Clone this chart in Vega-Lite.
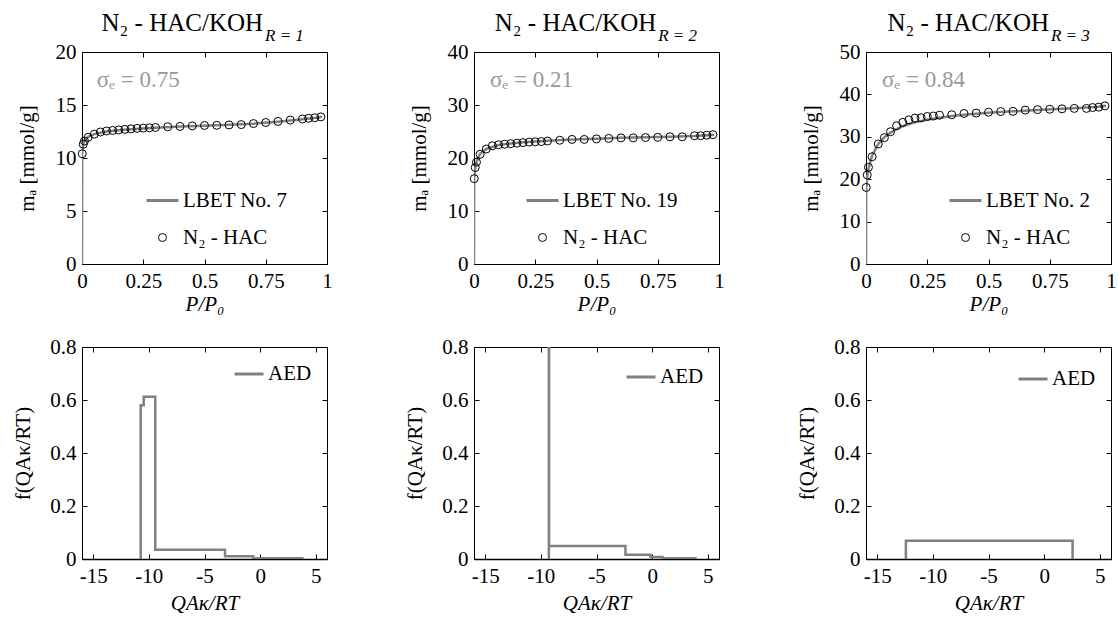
{
  "$schema": "https://vega.github.io/schema/vega-lite/v6.json",
  "background": "white",
  "padding": {"left": 12, "top": 10, "right": 0, "bottom": 0},
  "config": {
    "font": "Liberation Serif",
    "view": {"stroke": "black", "strokeWidth": 1},
    "axis": {
      "labelFont": "Liberation Serif", "labelFontSize": 21, "labelColor": "black",
      "titleFont": "Liberation Serif", "titleFontSize": 21, "titleFontWeight": "normal", "titleColor": "black",
      "domainColor": "black", "tickColor": "black", "grid": false, "tickSize": -5, "labelPadding": 11, "labelFlush": false
    },
    "legend": {"labelFont": "Liberation Serif", "labelFontSize": 21, "labelColor": "black", "padding": 0},
    "text": {"font": "Liberation Serif"}
  },
  "resolve": {
    "scale": {"shape": "independent", "stroke": "independent", "size": "independent", "strokeWidth": "independent", "color": "independent"},
    "legend": {"shape": "independent", "stroke": "independent", "size": "independent", "strokeWidth": "independent", "color": "independent"}
  },
  "datasets": {
    "exp1": [
      {"p":0.001,"m":10.4,"s":"N₂ - HAC"},{"p":0.005,"m":11.3,"s":"N₂ - HAC"},{"p":0.01,"m":11.6,"s":"N₂ - HAC"},{"p":0.025,"m":11.95,"s":"N₂ - HAC"},{"p":0.05,"m":12.25,"s":"N₂ - HAC"},{"p":0.075,"m":12.45,"s":"N₂ - HAC"},{"p":0.1,"m":12.55,"s":"N₂ - HAC"},{"p":0.125,"m":12.6,"s":"N₂ - HAC"},{"p":0.15,"m":12.65,"s":"N₂ - HAC"},{"p":0.175,"m":12.7,"s":"N₂ - HAC"},{"p":0.2,"m":12.75,"s":"N₂ - HAC"},{"p":0.225,"m":12.8,"s":"N₂ - HAC"},{"p":0.25,"m":12.82,"s":"N₂ - HAC"},{"p":0.275,"m":12.85,"s":"N₂ - HAC"},{"p":0.3,"m":12.88,"s":"N₂ - HAC"},{"p":0.35,"m":12.95,"s":"N₂ - HAC"},{"p":0.4,"m":12.98,"s":"N₂ - HAC"},{"p":0.45,"m":13.03,"s":"N₂ - HAC"},{"p":0.5,"m":13.07,"s":"N₂ - HAC"},{"p":0.55,"m":13.08,"s":"N₂ - HAC"},{"p":0.6,"m":13.12,"s":"N₂ - HAC"},{"p":0.65,"m":13.15,"s":"N₂ - HAC"},{"p":0.7,"m":13.25,"s":"N₂ - HAC"},{"p":0.75,"m":13.35,"s":"N₂ - HAC"},{"p":0.8,"m":13.45,"s":"N₂ - HAC"},{"p":0.85,"m":13.58,"s":"N₂ - HAC"},{"p":0.9,"m":13.68,"s":"N₂ - HAC"},{"p":0.925,"m":13.75,"s":"N₂ - HAC"},{"p":0.95,"m":13.8,"s":"N₂ - HAC"},{"p":0.975,"m":13.88,"s":"N₂ - HAC"}
    ],
    "fit1": [
      {"p":0,"m":0},{"p":0.0005,"m":10.3},{"p":0.001,"m":10.6},{"p":0.005,"m":11.3},{"p":0.01,"m":11.65},{"p":0.025,"m":12.0},{"p":0.05,"m":12.25},{"p":0.1,"m":12.5},{"p":0.15,"m":12.62},{"p":0.2,"m":12.72},{"p":0.3,"m":12.86},{"p":0.4,"m":12.97},{"p":0.5,"m":13.05},{"p":0.6,"m":13.13},{"p":0.7,"m":13.24},{"p":0.8,"m":13.42},{"p":0.9,"m":13.65},{"p":0.95,"m":13.78},{"p":0.98,"m":13.88}
    ],
    "exp2": [
      {"p":0.001,"m":16.1,"s":"N₂ - HAC"},{"p":0.005,"m":18.2,"s":"N₂ - HAC"},{"p":0.01,"m":19.2,"s":"N₂ - HAC"},{"p":0.025,"m":20.7,"s":"N₂ - HAC"},{"p":0.05,"m":21.7,"s":"N₂ - HAC"},{"p":0.075,"m":22.3,"s":"N₂ - HAC"},{"p":0.1,"m":22.5,"s":"N₂ - HAC"},{"p":0.125,"m":22.6,"s":"N₂ - HAC"},{"p":0.15,"m":22.7,"s":"N₂ - HAC"},{"p":0.175,"m":22.8,"s":"N₂ - HAC"},{"p":0.2,"m":22.9,"s":"N₂ - HAC"},{"p":0.225,"m":23.0,"s":"N₂ - HAC"},{"p":0.25,"m":23.05,"s":"N₂ - HAC"},{"p":0.275,"m":23.1,"s":"N₂ - HAC"},{"p":0.3,"m":23.2,"s":"N₂ - HAC"},{"p":0.35,"m":23.35,"s":"N₂ - HAC"},{"p":0.4,"m":23.5,"s":"N₂ - HAC"},{"p":0.45,"m":23.5,"s":"N₂ - HAC"},{"p":0.5,"m":23.6,"s":"N₂ - HAC"},{"p":0.55,"m":23.7,"s":"N₂ - HAC"},{"p":0.6,"m":23.8,"s":"N₂ - HAC"},{"p":0.65,"m":23.8,"s":"N₂ - HAC"},{"p":0.7,"m":23.86,"s":"N₂ - HAC"},{"p":0.75,"m":23.9,"s":"N₂ - HAC"},{"p":0.8,"m":24.0,"s":"N₂ - HAC"},{"p":0.85,"m":24.0,"s":"N₂ - HAC"},{"p":0.9,"m":24.2,"s":"N₂ - HAC"},{"p":0.925,"m":24.2,"s":"N₂ - HAC"},{"p":0.95,"m":24.3,"s":"N₂ - HAC"},{"p":0.975,"m":24.4,"s":"N₂ - HAC"}
    ],
    "fit2": [
      {"p":0,"m":0},{"p":0.0005,"m":15.8},{"p":0.001,"m":16.3},{"p":0.005,"m":18.3},{"p":0.01,"m":19.3},{"p":0.025,"m":20.8},{"p":0.05,"m":21.7},{"p":0.1,"m":22.45},{"p":0.15,"m":22.75},{"p":0.2,"m":22.95},{"p":0.3,"m":23.25},{"p":0.4,"m":23.5},{"p":0.5,"m":23.65},{"p":0.6,"m":23.8},{"p":0.7,"m":23.9},{"p":0.8,"m":24.0},{"p":0.9,"m":24.15},{"p":0.95,"m":24.3},{"p":0.98,"m":24.4}
    ],
    "exp3": [
      {"p":0.001,"m":18.05,"s":"N₂ - HAC"},{"p":0.005,"m":21.0,"s":"N₂ - HAC"},{"p":0.01,"m":22.8,"s":"N₂ - HAC"},{"p":0.025,"m":25.3,"s":"N₂ - HAC"},{"p":0.05,"m":28.3,"s":"N₂ - HAC"},{"p":0.075,"m":29.8,"s":"N₂ - HAC"},{"p":0.1,"m":31.2,"s":"N₂ - HAC"},{"p":0.125,"m":32.6,"s":"N₂ - HAC"},{"p":0.15,"m":33.4,"s":"N₂ - HAC"},{"p":0.175,"m":34.0,"s":"N₂ - HAC"},{"p":0.2,"m":34.4,"s":"N₂ - HAC"},{"p":0.225,"m":34.5,"s":"N₂ - HAC"},{"p":0.25,"m":34.8,"s":"N₂ - HAC"},{"p":0.275,"m":34.9,"s":"N₂ - HAC"},{"p":0.3,"m":35.1,"s":"N₂ - HAC"},{"p":0.35,"m":35.2,"s":"N₂ - HAC"},{"p":0.4,"m":35.5,"s":"N₂ - HAC"},{"p":0.45,"m":35.6,"s":"N₂ - HAC"},{"p":0.5,"m":35.8,"s":"N₂ - HAC"},{"p":0.55,"m":35.95,"s":"N₂ - HAC"},{"p":0.6,"m":36.0,"s":"N₂ - HAC"},{"p":0.65,"m":36.3,"s":"N₂ - HAC"},{"p":0.7,"m":36.4,"s":"N₂ - HAC"},{"p":0.75,"m":36.5,"s":"N₂ - HAC"},{"p":0.8,"m":36.6,"s":"N₂ - HAC"},{"p":0.85,"m":36.7,"s":"N₂ - HAC"},{"p":0.9,"m":36.7,"s":"N₂ - HAC"},{"p":0.925,"m":36.9,"s":"N₂ - HAC"},{"p":0.95,"m":37.0,"s":"N₂ - HAC"},{"p":0.975,"m":37.3,"s":"N₂ - HAC"}
    ],
    "fit3": [
      {"p":0,"m":0},{"p":0.0005,"m":16.5},{"p":0.001,"m":17.8},{"p":0.005,"m":20.6},{"p":0.01,"m":22.4},{"p":0.025,"m":25.6},{"p":0.05,"m":28.3},{"p":0.075,"m":29.9},{"p":0.1,"m":31.0},{"p":0.125,"m":31.8},{"p":0.15,"m":32.5},{"p":0.175,"m":33.0},{"p":0.2,"m":33.4},{"p":0.25,"m":34.0},{"p":0.3,"m":34.5},{"p":0.35,"m":34.9},{"p":0.4,"m":35.2},{"p":0.5,"m":35.7},{"p":0.6,"m":36.0},{"p":0.7,"m":36.3},{"p":0.8,"m":36.6},{"p":0.9,"m":36.9},{"p":0.95,"m":37.1},{"p":0.98,"m":37.3}
    ],
    "aed1": [
      {"i":0,"q":-10.73,"f":0,"s":"AED"},{"i":1,"q":-10.73,"f":0.58,"s":"AED"},{"i":2,"q":-10.46,"f":0.612,"s":"AED"},{"i":3,"q":-9.42,"f":0.035,"s":"AED"},{"i":4,"q":-3.16,"f":0.01,"s":"AED"},{"i":5,"q":-0.63,"f":0.003,"s":"AED"},{"i":6,"q":3.9,"f":0.003,"s":"AED"}
    ],
    "aed2": [
      {"i":0,"q":-9.28,"f":0,"s":"AED"},{"i":1,"q":-9.28,"f":1.2,"s":"AED"},{"i":2,"q":-9.26,"f":0.049,"s":"AED"},{"i":3,"q":-2.4,"f":0.016,"s":"AED"},{"i":4,"q":-0.15,"f":0.0075,"s":"AED"},{"i":5,"q":0.93,"f":0.0025,"s":"AED"},{"i":6,"q":4.0,"f":0.0025,"s":"AED"}
    ],
    "aed3": [
      {"i":0,"q":-12.42,"f":0,"s":"AED"},{"i":1,"q":-12.42,"f":0.069,"s":"AED"},{"i":2,"q":2.55,"f":0,"s":"AED"}
    ]
  },
  "columns": 3,
  "spacing": {"column": 71, "row": 20},
  "concat": [
    {
      "width": 245, "height": 212,
      "resolve": {"axis": {"x": "independent", "y": "independent"}},
      "layer": [
        {
          "data": {"name": "fit1"},
          "mark": {"type": "line", "color": "#808080", "strokeWidth": 2.5, "clip": true},
          "encoding": {
            "x": {"field": "p", "type": "quantitative", "scale": {"domain": [0, 1]}, "axis": {"values": [0, 0.25, 0.5, 0.75, 1], "labelExpr": "'' + datum.value", "title": "P/P₀", "titleFontStyle": "italic", "titlePadding": 2}},
            "y": {"field": "m", "type": "quantitative", "scale": {"domain": [0, 20]}, "axis": {"values": [0, 5, 10, 15, 20], "labelExpr": "'' + datum.value", "title": "mₐ [mmol/g]", "titlePadding": 18}}
          }
        },
        {
          "data": {"name": "exp1"},
          "mark": {"type": "point", "filled": false, "opacity": 1},
          "encoding": {
            "x": {"field": "p", "type": "quantitative", "axis": {"orient": "top", "values": [0, 0.25, 0.5, 0.75, 1], "labels": false, "domain": false, "title": null}},
            "y": {"field": "m", "type": "quantitative", "axis": {"orient": "right", "values": [0, 5, 10, 15, 20], "labels": false, "domain": false, "title": null}},
            "shape": {"field": "s", "type": "nominal", "scale": {"domain": ["LBET No. 7", "N₂ - HAC"], "range": ["stroke", "circle"]}, "legend": {"orient": "none", "legendX": 63, "legendY": 131, "title": null, "labelOffset": 3, "rowPadding": 15}},
            "stroke": {"field": "s", "type": "nominal", "scale": {"domain": ["LBET No. 7", "N₂ - HAC"], "range": ["#808080", "#000000"]}, "legend": {"orient": "none", "legendX": 63, "legendY": 131, "title": null, "labelOffset": 3, "rowPadding": 15}},
            "size": {"field": "s", "type": "nominal", "scale": {"type": "ordinal", "domain": ["LBET No. 7", "N₂ - HAC"], "range": [1024, 64]}, "legend": {"orient": "none", "legendX": 63, "legendY": 131, "title": null, "labelOffset": 3, "rowPadding": 15}},
            "strokeWidth": {"field": "s", "type": "nominal", "scale": {"type": "ordinal", "domain": ["LBET No. 7", "N₂ - HAC"], "range": [3, 1]}, "legend": {"orient": "none", "legendX": 63, "legendY": 131, "title": null, "labelOffset": 3, "rowPadding": 15}}
          }
        },
        {
          "data": {"values": [{}]},
          "mark": {"type": "text", "align": "left", "baseline": "alphabetic", "fontSize": 23, "color": "#999999"},
          "encoding": {"x": {"datum": 0.06, "type": "quantitative", "axis": null}, "y": {"datum": 16.7, "type": "quantitative", "axis": null}, "text": {"value": "σₑ = 0.75"}}
        },
        {
          "data": {"values": [{}]},
          "mark": {"type": "text", "align": "right", "baseline": "alphabetic", "fontSize": 25, "color": "black"},
          "encoding": {"x": {"datum": 0.739, "type": "quantitative", "axis": null}, "y": {"datum": 22.0, "type": "quantitative", "axis": null}, "text": {"value": "N₂ - HAC/KOH"}}
        },
        {
          "data": {"values": [{}]},
          "mark": {"type": "text", "align": "left", "baseline": "alphabetic", "fontSize": 17, "fontStyle": "italic", "color": "black"},
          "encoding": {"x": {"datum": 0.747, "type": "quantitative", "axis": null}, "y": {"datum": 21.01, "type": "quantitative", "axis": null}, "text": {"value": "R = 1"}}
        }
      ]
    },
    {
      "width": 245, "height": 212,
      "resolve": {"axis": {"x": "independent", "y": "independent"}},
      "layer": [
        {
          "data": {"name": "fit2"},
          "mark": {"type": "line", "color": "#808080", "strokeWidth": 2.5, "clip": true},
          "encoding": {
            "x": {"field": "p", "type": "quantitative", "scale": {"domain": [0, 1]}, "axis": {"values": [0, 0.25, 0.5, 0.75, 1], "labelExpr": "'' + datum.value", "title": "P/P₀", "titleFontStyle": "italic", "titlePadding": 2}},
            "y": {"field": "m", "type": "quantitative", "scale": {"domain": [0, 40]}, "axis": {"values": [0, 10, 20, 30, 40], "labelExpr": "'' + datum.value", "title": "mₐ [mmol/g]", "titlePadding": 18}}
          }
        },
        {
          "data": {"name": "exp2"},
          "mark": {"type": "point", "filled": false, "opacity": 1},
          "encoding": {
            "x": {"field": "p", "type": "quantitative", "axis": {"orient": "top", "values": [0, 0.25, 0.5, 0.75, 1], "labels": false, "domain": false, "title": null}},
            "y": {"field": "m", "type": "quantitative", "axis": {"orient": "right", "values": [0, 10, 20, 30, 40], "labels": false, "domain": false, "title": null}},
            "shape": {"field": "s", "type": "nominal", "scale": {"domain": ["LBET No. 19", "N₂ - HAC"], "range": ["stroke", "circle"]}, "legend": {"orient": "none", "legendX": 51, "legendY": 131, "title": null, "labelOffset": 3, "rowPadding": 15}},
            "stroke": {"field": "s", "type": "nominal", "scale": {"domain": ["LBET No. 19", "N₂ - HAC"], "range": ["#808080", "#000000"]}, "legend": {"orient": "none", "legendX": 51, "legendY": 131, "title": null, "labelOffset": 3, "rowPadding": 15}},
            "size": {"field": "s", "type": "nominal", "scale": {"type": "ordinal", "domain": ["LBET No. 19", "N₂ - HAC"], "range": [1024, 64]}, "legend": {"orient": "none", "legendX": 51, "legendY": 131, "title": null, "labelOffset": 3, "rowPadding": 15}},
            "strokeWidth": {"field": "s", "type": "nominal", "scale": {"type": "ordinal", "domain": ["LBET No. 19", "N₂ - HAC"], "range": [3, 1]}, "legend": {"orient": "none", "legendX": 51, "legendY": 131, "title": null, "labelOffset": 3, "rowPadding": 15}}
          }
        },
        {
          "data": {"values": [{}]},
          "mark": {"type": "text", "align": "left", "baseline": "alphabetic", "fontSize": 23, "color": "#999999"},
          "encoding": {"x": {"datum": 0.065, "type": "quantitative", "axis": null}, "y": {"datum": 33.4, "type": "quantitative", "axis": null}, "text": {"value": "σₑ = 0.21"}}
        },
        {
          "data": {"values": [{}]},
          "mark": {"type": "text", "align": "right", "baseline": "alphabetic", "fontSize": 25, "color": "black"},
          "encoding": {"x": {"datum": 0.744, "type": "quantitative", "axis": null}, "y": {"datum": 44.0, "type": "quantitative", "axis": null}, "text": {"value": "N₂ - HAC/KOH"}}
        },
        {
          "data": {"values": [{}]},
          "mark": {"type": "text", "align": "left", "baseline": "alphabetic", "fontSize": 17, "fontStyle": "italic", "color": "black"},
          "encoding": {"x": {"datum": 0.752, "type": "quantitative", "axis": null}, "y": {"datum": 42.02, "type": "quantitative", "axis": null}, "text": {"value": "R = 2"}}
        }
      ]
    },
    {
      "width": 245, "height": 212,
      "resolve": {"axis": {"x": "independent", "y": "independent"}},
      "layer": [
        {
          "data": {"name": "fit3"},
          "mark": {"type": "line", "color": "#808080", "strokeWidth": 2.5, "clip": true},
          "encoding": {
            "x": {"field": "p", "type": "quantitative", "scale": {"domain": [0, 1]}, "axis": {"values": [0, 0.25, 0.5, 0.75, 1], "labelExpr": "'' + datum.value", "title": "P/P₀", "titleFontStyle": "italic", "titlePadding": 2}},
            "y": {"field": "m", "type": "quantitative", "scale": {"domain": [0, 50]}, "axis": {"values": [0, 10, 20, 30, 40, 50], "labelExpr": "'' + datum.value", "title": "mₐ [mmol/g]", "titlePadding": 18}}
          }
        },
        {
          "data": {"name": "exp3"},
          "mark": {"type": "point", "filled": false, "opacity": 1},
          "encoding": {
            "x": {"field": "p", "type": "quantitative", "axis": {"orient": "top", "values": [0, 0.25, 0.5, 0.75, 1], "labels": false, "domain": false, "title": null}},
            "y": {"field": "m", "type": "quantitative", "axis": {"orient": "right", "values": [0, 10, 20, 30, 40, 50], "labels": false, "domain": false, "title": null}},
            "shape": {"field": "s", "type": "nominal", "scale": {"domain": ["LBET No. 2", "N₂ - HAC"], "range": ["stroke", "circle"]}, "legend": {"orient": "none", "legendX": 82, "legendY": 131, "title": null, "labelOffset": 3, "rowPadding": 15}},
            "stroke": {"field": "s", "type": "nominal", "scale": {"domain": ["LBET No. 2", "N₂ - HAC"], "range": ["#808080", "#000000"]}, "legend": {"orient": "none", "legendX": 82, "legendY": 131, "title": null, "labelOffset": 3, "rowPadding": 15}},
            "size": {"field": "s", "type": "nominal", "scale": {"type": "ordinal", "domain": ["LBET No. 2", "N₂ - HAC"], "range": [1024, 64]}, "legend": {"orient": "none", "legendX": 82, "legendY": 131, "title": null, "labelOffset": 3, "rowPadding": 15}},
            "strokeWidth": {"field": "s", "type": "nominal", "scale": {"type": "ordinal", "domain": ["LBET No. 2", "N₂ - HAC"], "range": [3, 1]}, "legend": {"orient": "none", "legendX": 82, "legendY": 131, "title": null, "labelOffset": 3, "rowPadding": 15}}
          }
        },
        {
          "data": {"values": [{}]},
          "mark": {"type": "text", "align": "left", "baseline": "alphabetic", "fontSize": 23, "color": "#999999"},
          "encoding": {"x": {"datum": 0.065, "type": "quantitative", "axis": null}, "y": {"datum": 41.7, "type": "quantitative", "axis": null}, "text": {"value": "σₑ = 0.84"}}
        },
        {
          "data": {"values": [{}]},
          "mark": {"type": "text", "align": "right", "baseline": "alphabetic", "fontSize": 25, "color": "black"},
          "encoding": {"x": {"datum": 0.747, "type": "quantitative", "axis": null}, "y": {"datum": 55.0, "type": "quantitative", "axis": null}, "text": {"value": "N₂ - HAC/KOH"}}
        },
        {
          "data": {"values": [{}]},
          "mark": {"type": "text", "align": "left", "baseline": "alphabetic", "fontSize": 17, "fontStyle": "italic", "color": "black"},
          "encoding": {"x": {"datum": 0.755, "type": "quantitative", "axis": null}, "y": {"datum": 52.52, "type": "quantitative", "axis": null}, "text": {"value": "R = 3"}}
        }
      ]
    },
    {
      "width": 245, "height": 212,
      "resolve": {"axis": {"x": "independent", "y": "independent"}},
      "layer": [
        {
          "data": {"name": "aed1"},
          "mark": {"type": "line", "interpolate": "step-after", "strokeWidth": 2.5, "clip": true},
          "encoding": {
            "x": {"field": "q", "type": "quantitative", "scale": {"domain": [-15, 5]}, "axis": {"values": [-15, -10, -5, 0, 5], "labelExpr": "'' + datum.value", "title": "QAκ/RT", "titleFontStyle": "italic", "titlePadding": 6, "domainWidth": 1.5}},
            "y": {"field": "f", "type": "quantitative", "scale": {"domain": [0, 0.8]}, "axis": {"values": [0, 0.2, 0.4, 0.6, 0.8], "labelExpr": "'' + datum.value", "title": "f(QAκ/RT)", "titlePadding": 16}},
            "order": {"field": "i", "type": "quantitative"},
            "stroke": {"field": "s", "type": "nominal", "scale": {"domain": ["AED"], "range": ["#808080"]}, "legend": {"orient": "none", "legendX": 151, "legendY": 11, "title": null, "symbolType": "stroke", "symbolSize": 841, "symbolStrokeWidth": 3, "labelOffset": 3}}
          }
        },
        {
          "data": {"name": "aed1"},
          "mark": {"type": "point", "opacity": 0, "clip": true},
          "encoding": {
            "x": {"field": "q", "type": "quantitative", "axis": {"orient": "top", "values": [-15, -10, -5, 0, 5], "labels": false, "domain": false, "title": null}},
            "y": {"field": "f", "type": "quantitative", "axis": {"orient": "right", "values": [0, 0.2, 0.4, 0.6, 0.8], "labels": false, "domain": false, "title": null}}
          }
        }
      ]
    },
    {
      "width": 245, "height": 212,
      "resolve": {"axis": {"x": "independent", "y": "independent"}},
      "layer": [
        {
          "data": {"name": "aed2"},
          "mark": {"type": "line", "interpolate": "step-after", "strokeWidth": 2.5, "clip": true},
          "encoding": {
            "x": {"field": "q", "type": "quantitative", "scale": {"domain": [-15, 5]}, "axis": {"values": [-15, -10, -5, 0, 5], "labelExpr": "'' + datum.value", "title": "QAκ/RT", "titleFontStyle": "italic", "titlePadding": 6, "domainWidth": 1.5}},
            "y": {"field": "f", "type": "quantitative", "scale": {"domain": [0, 0.8]}, "axis": {"values": [0, 0.2, 0.4, 0.6, 0.8], "labelExpr": "'' + datum.value", "title": "f(QAκ/RT)", "titlePadding": 16}},
            "order": {"field": "i", "type": "quantitative"},
            "stroke": {"field": "s", "type": "nominal", "scale": {"domain": ["AED"], "range": ["#808080"]}, "legend": {"orient": "none", "legendX": 151, "legendY": 14, "title": null, "symbolType": "stroke", "symbolSize": 841, "symbolStrokeWidth": 3, "labelOffset": 3}}
          }
        },
        {
          "data": {"name": "aed2"},
          "mark": {"type": "point", "opacity": 0, "clip": true},
          "encoding": {
            "x": {"field": "q", "type": "quantitative", "axis": {"orient": "top", "values": [-15, -10, -5, 0, 5], "labels": false, "domain": false, "title": null}},
            "y": {"field": "f", "type": "quantitative", "axis": {"orient": "right", "values": [0, 0.2, 0.4, 0.6, 0.8], "labels": false, "domain": false, "title": null}}
          }
        }
      ]
    },
    {
      "width": 245, "height": 212,
      "resolve": {"axis": {"x": "independent", "y": "independent"}},
      "layer": [
        {
          "data": {"name": "aed3"},
          "mark": {"type": "line", "interpolate": "step-after", "strokeWidth": 2.5, "clip": true},
          "encoding": {
            "x": {"field": "q", "type": "quantitative", "scale": {"domain": [-15, 5]}, "axis": {"values": [-15, -10, -5, 0, 5], "labelExpr": "'' + datum.value", "title": "QAκ/RT", "titleFontStyle": "italic", "titlePadding": 6, "domainWidth": 1.5}},
            "y": {"field": "f", "type": "quantitative", "scale": {"domain": [0, 0.8]}, "axis": {"values": [0, 0.2, 0.4, 0.6, 0.8], "labelExpr": "'' + datum.value", "title": "f(QAκ/RT)", "titlePadding": 16}},
            "order": {"field": "i", "type": "quantitative"},
            "stroke": {"field": "s", "type": "nominal", "scale": {"domain": ["AED"], "range": ["#808080"]}, "legend": {"orient": "none", "legendX": 151, "legendY": 16, "title": null, "symbolType": "stroke", "symbolSize": 841, "symbolStrokeWidth": 3, "labelOffset": 3}}
          }
        },
        {
          "data": {"name": "aed3"},
          "mark": {"type": "point", "opacity": 0, "clip": true},
          "encoding": {
            "x": {"field": "q", "type": "quantitative", "axis": {"orient": "top", "values": [-15, -10, -5, 0, 5], "labels": false, "domain": false, "title": null}},
            "y": {"field": "f", "type": "quantitative", "axis": {"orient": "right", "values": [0, 0.2, 0.4, 0.6, 0.8], "labels": false, "domain": false, "title": null}}
          }
        }
      ]
    }
  ]
}
